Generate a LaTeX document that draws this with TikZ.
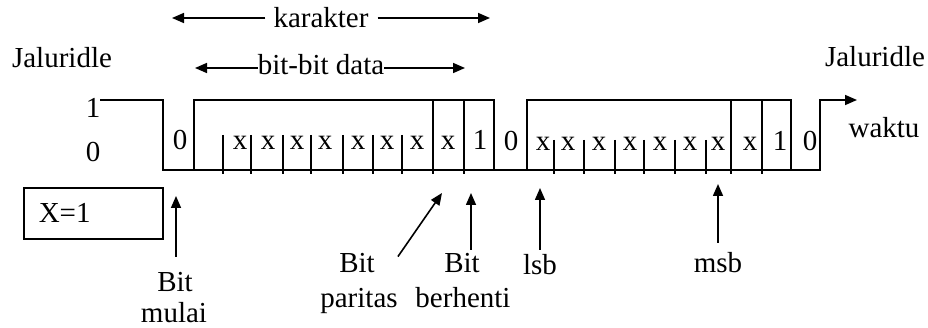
\documentclass[tikz,border=0pt]{standalone}
\usepackage{fontspec}
\setmainfont{Liberation Serif}
\usetikzlibrary{arrows.meta}
\begin{document}
\begin{tikzpicture}[x=1pt,y=-1pt,
  wave/.style={line width=1.6pt, line join=miter},
  tickmark/.style={line width=1.4pt},
  tip/.style={-{Triangle[length=12pt,width=10pt]}},
  pointer/.style={line width=1.6pt, tip},
  lbl/.style={inner sep=0pt, anchor=base, font=\fontsize{29}{34}\selectfont},
]
\useasboundingbox (0,0) rectangle (928,328);

% idle-line labels and levels
\node[lbl] (idleL) at (62,68) {Jaluridle};
\node[lbl] (idleR) at (875,67) {Jaluridle};
\node[lbl] (lvl1) at (93,118) {1};
\node[lbl] (lvl0) at (93,162) {0};
\node[lbl] (time) at (884,138) {waktu};

% signal line
\draw[wave, tip] (100,100) -| (163,170) -| (194,100) -| (494,170) -| (527,100)
  -| (791,170) -| (820,100) -- (857,100);
\draw[wave] (163,170) -- (820,170);
\foreach \xx in {433,464,731,762}
  \draw[wave] (\xx,100) -- (\xx,174);

% bit separators
\foreach \xx in {223,251,283,311,343,373,402}
  \draw[tickmark] (\xx,135) -- (\xx,174);
\foreach \xx in {554,584,615,644,675,706}
  \draw[tickmark] (\xx,140) -- (\xx,174);

% bit values, first character
\node[lbl] (s1) at (180,150) {0};
\foreach \xx [count=\i] in {240,268,297,325,358,387,417,448}
  \node[lbl] (a\i) at (\xx,150) {x};
\node[lbl] (p1) at (480,150) {1};
% bit values, second character
\node[lbl] (s2) at (511,151) {0};
\foreach \xx [count=\i] in {543,568,599,630,660,690,718,750}
  \node[lbl] (b\i) at (\xx,151) {x};
\node[lbl] (p2) at (780,151) {1};
\node[lbl] (s3) at (810,151) {0};

% span arrows
\node[lbl] (kar) at (321,28) {karakter};
\coordinate (karL) at (172,18);
\coordinate (karR) at (490,18);
\draw[pointer] ([xshift=-8pt]kar.west |- karL) -- (karL);
\draw[pointer] ([xshift=9pt]kar.east |- karR) -- (karR);

\node[lbl] (dat) at (321,75) {bit-bit data};
\coordinate (datL) at (195,68);
\coordinate (datR) at (465,68);
\draw[pointer] (dat.west |- datL) -- (datL);
\draw[pointer] (dat.east |- datR) -- (datR);

% legend box
\node[draw, line width=1.6pt, anchor=north west, minimum width=139pt,
  minimum height=51pt, inner xsep=15pt, inner ysep=0pt, text width=109pt,
  align=left, font=\fontsize{29}{34}\selectfont] (xbox) at (23,187) {X=1};

% pointer labels
\node[lbl] (mulaiA) at (175,292) {Bit};
\node[lbl] (mulaiB) at (174,323) {mulai};
\node[lbl] (parA) at (357,273) {Bit};
\node[lbl] (parB) at (359,308) {paritas};
\node[lbl] (stopA) at (462,273) {Bit};
\node[lbl] (stopB) at (463,308) {berhenti};
\node[lbl] (lsb) at (540,275) {lsb};
\node[lbl] (msb) at (718,273) {msb};

\coordinate (mulaiT) at (176,196);
\coordinate (parT) at (442,193);
\coordinate (stopT) at (471,193);
\coordinate (lsbT) at (540,188);
\coordinate (msbT) at (718,184);

\draw[pointer] ([yshift=16pt]mulaiA.north -| mulaiT) -- (mulaiT);
\draw[pointer] ([xshift=23pt,yshift=-3pt]parA.north east) -- (parT);
\draw[pointer] ([yshift=4pt]stopA.north -| stopT) -- (stopT);
\draw[pointer] ([yshift=5pt]lsb.north) -- (lsbT);
\draw[pointer] ([yshift=10pt]msb.north) -- (msbT);
\end{tikzpicture}
\end{document}
